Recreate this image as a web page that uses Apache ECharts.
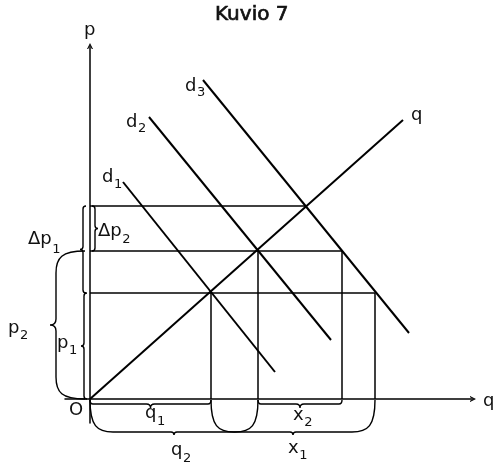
<!DOCTYPE html>
<html>
<head>
<meta charset="utf-8">
<script src="https://cdn.jsdelivr.net/npm/echarts@6/dist/echarts.min.js"></script>
<style>
html, body { margin: 0; padding: 0; background: #fff; }
#chart { width: 495px; height: 464px; }
</style>
</head>
<body>
<div id="chart"></div>
<script>
// quantities where the supply line meets d1, d2, d3
var qEquil = [121, 168, 215];
// price levels p1, p2 and the top level
var pLevels = [106, 148, 193];
// quantities demanded on d3 at p1 and p2
var qD3 = [285, 252];

var supply = [[0, 0], [313, 279]];
var demand1 = [[33, 217], [185, 27]];
var demand2 = [[59, 282], [241, 59]];
var demand3 = [[113, 319], [319, 66]];

var FONT = 'DejaVu Sans';

function seg(points, w) {
	return {
		type: 'line',
		data: points,
		symbol: 'none',
		silent: true,
		animation: false,
		clip: false,
		lineStyle: { color: '#000', width: w }
	};
}

// guide lines from the axes to the curves
var guides = [
	[[0, pLevels[2]], [qEquil[2], pLevels[2]]],
	[[0, pLevels[1]], [qD3[1], pLevels[1]]],
	[[0, pLevels[0]], [qD3[0], pLevels[0]]],
	[[qEquil[0], 0], [qEquil[0], pLevels[0]]],
	[[qEquil[1], 0], [qEquil[1], pLevels[1]]],
	[[qD3[1], 0], [qD3[1], pLevels[1]]],
	[[qD3[0], 0], [qD3[0], pLevels[0]]]
];

// braces: endpoints in chart values
var braces = [
	{ name: 'q1', value: [0, 0, qEquil[0], 0] },
	{ name: 'q2', value: [0, 0, qEquil[1], 0] },
	{ name: 'x2', value: [qEquil[1], 0, qD3[1], 0] },
	{ name: 'x1', value: [qEquil[0], 0, qD3[0], 0] },
	{ name: 'p1', value: [0, pLevels[0], 0, 0] },
	{ name: 'p2', value: [0, pLevels[1], 0, 0] },
	{ name: 'dp1', value: [0, pLevels[2], 0, pLevels[0]] },
	{ name: 'dp2', value: [0, pLevels[2], 0, pLevels[1]] }
];

var braceStyle = {
	q1: { side: 'down', gap: 1, depth: 4, r: 3, tip: 4 },
	x2: { side: 'down', gap: 1, depth: 4, r: 3, tip: 4 },
	q2: { side: 'down', gap: 1, depth: 32, r: 23, tip: 3 },
	x1: { side: 'down', gap: 1, depth: 32, r: 23, tip: 3 },
	p1: { side: 'left', gap: 3, depth: 3, r: 3, tip: 3 },
	dp1: { side: 'left', gap: 4, depth: 3, r: 3, tip: 3 },
	dp2: { side: 'right', gap: 2, depth: 3, r: 3, tip: 3 },
	p2: { side: 'left', gap: 5, depth: 29, r: 22, tip: 6 }
};
var sides = { down: [0, 1], left: [-1, 0], right: [1, 0] };

function bracePath(a, b, n, s) {
	var dx = b[0] - a[0], dy = b[1] - a[1];
	var L = Math.sqrt(dx * dx + dy * dy);
	var u = [dx / L, dy / L];
	function P(along, off) {
		return (a[0] + u[0] * along + n[0] * off).toFixed(1) + ',' +
			(a[1] + u[1] * along + n[1] * off).toFixed(1);
	}
	var d = s.depth, r = s.r, t = s.tip, m = L / 2;
	return 'M' + P(0, 0) + ' C' + P(0, d * 0.8) + ' ' + P(r * 0.3, d) + ' ' + P(r, d) +
		' L' + P(m - t, d) + ' Q' + P(m, d) + ' ' + P(m, d + t) +
		' Q' + P(m, d) + ' ' + P(m + t, d) +
		' L' + P(L - r, d) + ' C' + P(L - r * 0.3, d) + ' ' + P(L, d * 0.8) + ' ' + P(L, 0);
}

function renderBrace(params, api) {
	var s = braceStyle[braces[params.dataIndex].name];
	var n = sides[s.side];
	var a = api.coord([api.value(0), api.value(1)]);
	var b = api.coord([api.value(2), api.value(3)]);
	a = [a[0] + n[0] * s.gap, a[1] + n[1] * s.gap];
	b = [b[0] + n[0] * s.gap, b[1] + n[1] * s.gap];
	return {
		type: 'path',
		shape: { pathData: bracePath(a, b, n, s) },
		style: { fill: 'none', stroke: '#000', lineWidth: 1.4 }
	};
}

var M = 18, S = 13;
var measureCtx = document.createElement('canvas').getContext('2d');
function textWidth(s, size) {
	measureCtx.font = size + 'px "' + FONT + '"';
	return measureCtx.measureText(s).width;
}

// one text piece, x = left edge, base = baseline
function piece(x, base, s, size) {
	return {
		type: 'text',
		x: x,
		y: base - 0.35 * size,
		silent: true,
		style: {
			text: s,
			fontSize: size,
			fontFamily: FONT,
			fill: '#111',
			align: 'left',
			verticalAlign: 'middle'
		}
	};
}

// main letter(s) with an optional subscript right after it
function lab(out, x, base, main, sub, subBase) {
	out.push(piece(x, base, main, M));
	if (sub) out.push(piece(x + textWidth(main, M) + 0.5, subBase, sub, S));
}

var labels = [];
lab(labels, 84, 37, 'p');
lab(labels, 483, 408, 'q');
lab(labels, 411, 122, 'q');
lab(labels, 185, 93, 'd', '3', 97);
lab(labels, 126, 129, 'd', '2', 133);
lab(labels, 102, 184, 'd', '1', 189);
lab(labels, 28, 246, 'Δp', '1', 254);
lab(labels, 98, 238, 'Δp', '2', 244);
lab(labels, 8, 335, 'p', '2', 340);
lab(labels, 57, 350, 'p', '1', 355);
lab(labels, 69, 417, 'O');
lab(labels, 145, 420, 'q', '1', 426);
lab(labels, 293, 422, 'x', '2', 427);
lab(labels, 171, 457, 'q', '2', 463);
lab(labels, 288, 455, 'x', '1', 460);

var openArrow = 'path://M0,10 L5,0 L10,10 L8,10 L5,3.6 L2,10 Z';

var series = [
	seg(supply, 2),
	seg(demand1, 2),
	seg(demand2, 2),
	seg(demand3, 2)
];
guides.forEach(function (g) { series.push(seg(g, 1.5)); });
series.push({
	type: 'custom',
	coordinateSystem: 'cartesian2d',
	renderItem: renderBrace,
	data: braces,
	silent: true,
	animation: false
});

var option = {
	animation: false,
	backgroundColor: '#fff',
	title: {
		text: 'Kuvio 7',
		left: 210,
		top: 0,
		textStyle: {
			fontFamily: FONT,
			fontSize: 20,
			fontWeight: 'normal',
			color: '#111',
			textBorderColor: '#111',
			textBorderWidth: 0.7
		}
	},
	grid: { left: 65, right: 22, top: 46, bottom: 41 },
	xAxis: {
		type: 'value',
		min: -25,
		max: 383,
		splitLine: { show: false },
		axisTick: { show: false },
		axisLabel: { show: false },
		axisLine: {
			onZero: true,
			symbol: ['none', openArrow],
			symbolSize: [10, 6],
			lineStyle: { color: '#000', width: 1.5 }
		}
	},
	yAxis: {
		type: 'value',
		min: -24,
		max: 353,
		splitLine: { show: false },
		axisTick: { show: false },
		axisLabel: { show: false },
		axisLine: {
			onZero: true,
			symbol: ['none', openArrow],
			symbolSize: [9, 6],
			lineStyle: { color: '#000', width: 1.5 }
		}
	},
	graphic: labels,
	series: series
};

var chart = echarts.init(document.getElementById('chart'));
chart.setOption(option, true);
</script>
</body>
</html>
